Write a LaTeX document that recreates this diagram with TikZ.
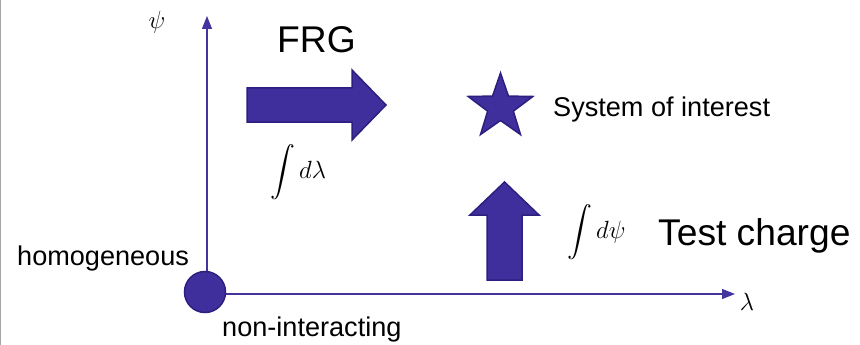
\documentclass[tikz,border=0pt]{standalone}
\usepackage{amsmath}
\usepackage{fontspec}
\setmainfont{Liberation Sans}
\usetikzlibrary{arrows.meta}
\definecolor{indfill}{HTML}{3F2F9C}
\definecolor{inddraw}{HTML}{2C1F80}
\definecolor{axiscol}{HTML}{4334A0}
\tikzset{
  bigarrow/.style={fill=indfill,draw=inddraw,line width=1.5pt,line join=miter},
  axisline/.style={draw=axiscol,line width=1.4pt,-{Triangle[length=13pt,width=10pt]}},
  lbl/.style={inner sep=0pt,font=\fontsize{27.1}{30}\selectfont},
  biglbl/.style={inner sep=0pt,font=\fontsize{37.2}{40}\selectfont},
  mathlbl/.style={inner sep=0pt,font=\fontsize{27}{30}\selectfont},
  axlbl/.style={inner sep=0pt,font=\fontsize{30}{34}\selectfont},
}
\begin{document}
\begin{tikzpicture}[x=1pt,y=-1pt]
\useasboundingbox (0,0) rectangle (860,345);
\fill[white] (0,0) rectangle (860,345);
\draw[gray!70,line width=1.2pt] (0.6,0) -- (0.6,345);
% axes
\coordinate (ytip) at (207,16);
\coordinate (xtip) at (735,294);
\node[circle,fill=indfill,draw=inddraw,line width=1.5pt,minimum size=41pt,inner sep=0pt] (orig) at (205,292) {};
\draw[axisline] (orig.north -| ytip) -- (ytip);
\draw[axisline] (orig.east |- xtip) -- (xtip);
\node[axlbl] (psilbl) at (157,22) {$\psi$};
\node[axlbl] (lamlbl) at (747,302) {$\lambda$};
% labels
\node[lbl,anchor=base west] (homo) at (17,265) {homogeneous};
\node[lbl,anchor=base west] (nonint) at (222,336) {non-interacting};
\node[biglbl,anchor=base west] (frg) at (277,53) {FRG};
\node[biglbl,anchor=base west] (test) at (658,245) {Test charge};
\node[lbl,anchor=base west] (sys) at (553,117) {System of interest};
% arrows
\draw[bigarrow] (247,88) -- (352,88) -- (352,70) -- (386,105) -- (352,140) -- (352,122) -- (247,122) -- cycle;
\draw[bigarrow] (487,280) -- (487,215) -- (470,215) -- (504.5,182) -- (539,215) -- (522,215) -- (522,280) -- cycle;
% star
\coordinate (starc) at (500.5,107);
\draw[bigarrow,shift={(starc)}] (90:34pt) -- (126:13.5pt) -- (162:34pt) -- (198:13.5pt) -- (234:34pt) -- (270:13.5pt) -- (306:34pt) -- (342:13.5pt) -- (18:34pt) -- (54:13.5pt) -- cycle;
% integrals
\node[mathlbl,anchor=west] (intl) at (270,172) {$\displaystyle\int d\lambda$};
\node[mathlbl,anchor=west] (intp) at (567,232) {$\displaystyle\int d\psi$};
\end{tikzpicture}
\end{document}
